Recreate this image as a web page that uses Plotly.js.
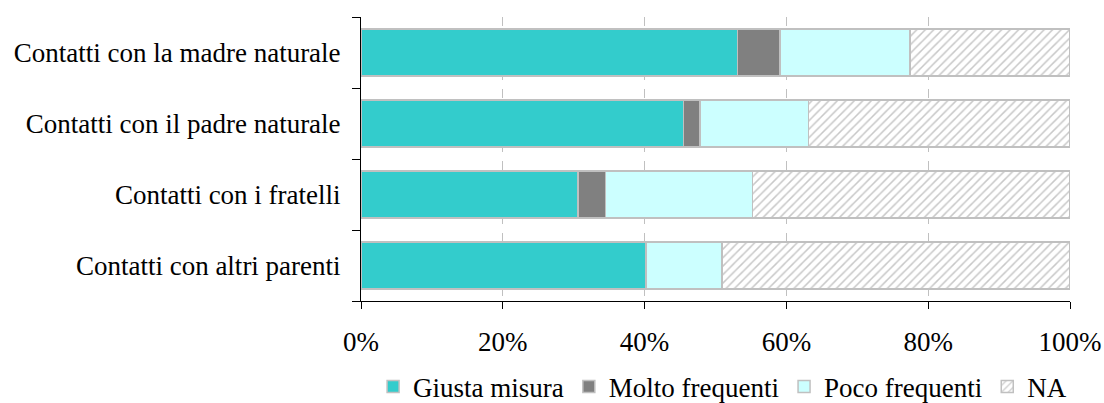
<!DOCTYPE html>
<html><head><meta charset="utf-8">
<script src="https://cdn.plot.ly/plotly-3.0.1.min.js"></script>
<style>html,body{margin:0;padding:0;background:#fff}</style>
</head><body>
<div id="chart" style="width:1104px;height:403px"></div>
<script>
const categories = ["Contatti con la madre naturale","Contatti con il padre naturale","Contatti con i fratelli","Contatti con altri parenti"];
const giusta = [53.1, 45.5, 30.6, 40.2];
const molto = [6.0, 2.3, 3.9, 0];
const poco = [18.3, 15.3, 20.7, 10.7];
const na = [22.6, 36.9, 44.8, 49.1];
const seriesNames = ["Giusta misura","Molto frequenti","Poco frequenti","NA"];

const cats = categories.slice().reverse();
const rev = a => a.slice().reverse();
const line = {color:"#c0c0c0", width:1.5};
const traces = [
  {name:seriesNames[0], x:rev(giusta), marker:{color:"#33CCCC", line:line}},
  {name:seriesNames[1], x:rev(molto), marker:{color:"#808080", line:line}},
  {name:seriesNames[2], x:rev(poco), marker:{color:"#CCFFFF", line:line}},
  {name:seriesNames[3], x:rev(na), marker:{color:"#ffffff", line:line,
     pattern:{shape:"/", fgcolor:"#c8c8c8", bgcolor:"#ffffff", size:6, solidity:0.25}}}
].map(t => Object.assign(t, {y:cats, type:"bar", orientation:"h", width:0.66, hoverinfo:"skip"}));

const font = {family:"'Liberation Serif', 'DejaVu Serif', serif", size:27, color:"#000"};
Plotly.newPlot("chart", traces, {
  width:1104, height:403,
  barmode:"stack",
  margin:{l:361, r:34, t:17, b:102, autoexpand:false},
  font:font,
  paper_bgcolor:"#fff", plot_bgcolor:"#fff",
  showlegend:true,
  legend:{orientation:"h", x:0.51, xref:"paper", xanchor:"center", yref:"container", y:0.04, yanchor:"middle", font:font, traceorder:"normal", itemwidth:30, tracegroupgap:0},
  xaxis:{range:[0,100], dtick:20, ticksuffix:"%", showgrid:true, gridcolor:"#c0c0c0", griddash:"dash", gridwidth:1, automargin:false,
         showline:true, linecolor:"#000", linewidth:1, ticks:"outside", ticklen:7, tickcolor:"#000", zeroline:false, fixedrange:true, ticklabelstandoff:10},
  yaxis:{type:"category", showline:true, linecolor:"#000", linewidth:1, ticks:"outside", tickson:"boundaries", ticklen:8, tickcolor:"#000",
         showgrid:false, fixedrange:true, ticklabelstandoff:14, automargin:false}
}, {displayModeBar:false, staticPlot:true});
</script>
</body></html>
